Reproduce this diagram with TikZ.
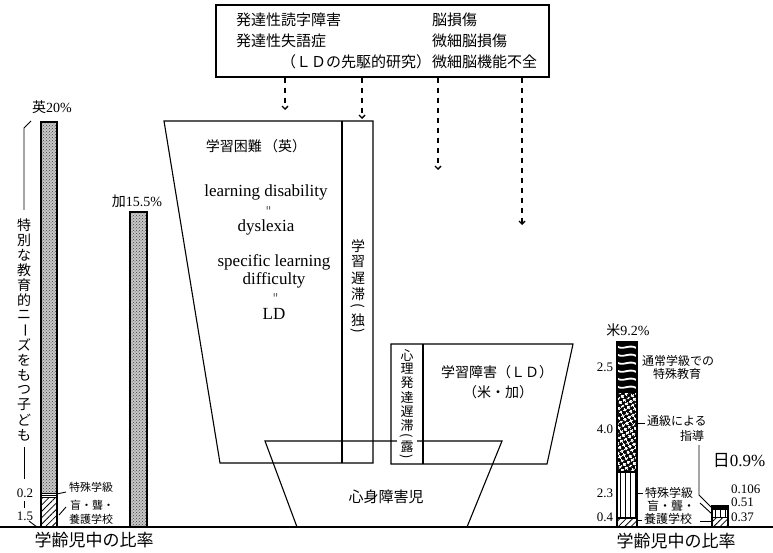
\documentclass[tikz,border=0pt]{standalone}
\usepackage{fontspec}
\usepackage{graphicx}
\newfontfamily\jp{Noto Sans CJK JP}
\newfontfamily\tms{Liberation Serif}
\usetikzlibrary{arrows.meta,patterns,patterns.meta}
\newcommand{\vpl}{\rotatebox[origin=c]{-90}{(}}
\newcommand{\vpr}{\rotatebox[origin=c]{-90}{)}}
\newcommand{\vbar}{\rotatebox[origin=c]{-90}{ー}}
\newcommand{\fs}[1]{\fontsize{#1}{#1}\selectfont}
\begin{document}
\begin{tikzpicture}[x=1pt,y={(0pt,-1pt)},
 outl/.style={line width=1.1pt, line join=miter},
 txt/.style={inner sep=0pt, outer sep=0pt},
 j17/.style={txt, font={\jp\fs{17}}},
 j15/.style={txt, font={\jp\fs{15}}},
 j14/.style={txt, font={\jp\fs{14}}},
 j13/.style={txt, font={\jp\fs{13}}},
 j12/.style={txt, font={\jp\fs{12}}},
 j11/.style={txt, font={\jp\fs{11}}},
 en/.style={txt, font={\tms\fs{17}}},
 num/.style={txt, font={\tms\fs{13}}},
 eqs/.style={txt, font={\tms\fs{13}}},
 dasharrow/.style={line width=1.4pt, dash pattern=on 5pt off 5pt, -{Straight Barb[length=3pt,width=6pt]}},
 lead/.style={line width=0.9pt},
 stip/.style={fill=black!22, postaction={pattern={crosshatch dots}, pattern color=black!75}},
 hatch/.style={pattern={Lines[angle=45,distance=4.5pt,line width=0.8pt]}},
 vlines/.style={pattern={Lines[angle=90,distance=5pt,line width=0.8pt]}},
]
\useasboundingbox (0,0) rectangle (773,553);

% ---- top box ----
\node[outl, draw, minimum width=333pt, minimum height=72pt, inner sep=0pt] (topbox) at (382.5,41) {};
\node[j15, anchor=west] (t1) at (236,20) {発達性読字障害};
\node[j15, anchor=west] (t2) at (236,41) {発達性失語症};
\node[j15] (t3) at (356,62) {（ＬＤの先駆的研究）};
\node[j15, anchor=west] (t4) at (432,20) {脳損傷};
\node[j15, anchor=west] (t5) at (432,41) {微細脳損傷};
\node[j15, anchor=west] (t6) at (432,62) {微細脳機能不全};

\coordinate (a1) at (285,110);
\coordinate (a2) at (362,119);
\coordinate (a3) at (438,170);
\coordinate (a4) at (522,225);
\draw[dasharrow] (topbox.south -| a1) -- (a1);
\draw[dasharrow] (topbox.south -| a2) -- (a2);
\draw[dasharrow] (topbox.south -| a3) -- (a3);
\draw[dasharrow] (topbox.south -| a4) -- (a4);

% ---- central shapes ----
\draw[outl] (164,121) -- (373,121) -- (373,463) -- (220,463) -- cycle;
\draw[outl] (342,121) -- (342,463);
\draw[outl] (391,344) -- (573,344) -- (547,464) -- (391,464) -- cycle;
\draw[outl] (423,344) -- (423,464);
\draw[outl] (265,441) -- (502,441) -- (467,527) -- (297,527) -- cycle;
\fill[white] (397,436) rectangle (417,446);

\node[j14] (lbA) at (256,146) {学習困難\,（英）};
\node[en] (e1) at (266,192) {learning disability};
\node[eqs] (e2) at (270,208) {\rotatebox{90}{\scalebox{0.6}[1]{=}}};
\node[en] (e3) at (266,227) {dyslexia};
\node[en] (e4) at (274,262) {specific learning};
\node[en] (e5) at (274,280) {difficulty};
\node[eqs] (e6) at (277,295) {\rotatebox{90}{\scalebox{0.6}[1]{=}}};
\node[en] (e7) at (274,314) {LD};

\foreach \c/\yy [count=\i] in {学/246,習/262,遅/278,滞/294,\vpl/307,独/320,\vpr/332}
  \node[j14] (g\i) at (358,\yy) {\c};
\foreach \c/\yy [count=\i] in {心/356,理/369,発/383,達/398,遅/412,滞/426,\vpl/437,露/447,\vpr/458}
  \node[j13] (h\i) at (407,\yy) {\c};

\node[j14] (lbB) at (497,372) {学習障害（ＬＤ）};
\node[j14] (lbC) at (498,392) {（米・加）};
\node[j15] (lbD) at (386,497) {心身障害児};

% ---- left bars ----
\path[stip] (41,122) rectangle (57,493);
\path[hatch] (41,497) rectangle (57,527);
\draw[outl] (41,122) rectangle (57,527);
\draw[lead] (41,493) -- (57,493) (41,495) -- (57,495) (41,497) -- (57,497);
\path[stip] (130,212) rectangle (147,527);
\draw[outl] (130,212) rectangle (147,527);

\node[j14] (L1) at (52,107) {英{\tms 20\%}};
\node[j14] (L2) at (137,201) {加{\tms 15.5\%}};
\node[num, anchor=east] (L3) at (33,493) {0.2};
\node[num, anchor=east] (L4) at (33,516) {1.5};
\node[j11, anchor=west] (L5) at (69,487) {特殊学級};
\node[j11, anchor=west] (L6) at (70,505) {盲・聾・};
\node[j11, anchor=west] (L7) at (69,519) {養護学校};
\node[j17] (L8) at (94,540) {学齢児中の比率};
\draw[lead] (57,494) -- (66,492);
\draw[lead] (59,515) -- (66,507);

\draw[lead] (31,121) -- (24,128) -- (24,210);
\draw[lead] (24,447) -- (24,479);
\draw[lead] (24,501) -- (24,508);
\draw[lead] (29,521) -- (37,527);
\foreach \c [count=\i] in {特,別,な,教,育,的,ニ,\vbar,ズ,を,も,つ,子,ど,も}
  \node[j14] (s\i) at (24,{225+(\i-1)*15}) {\c};

% ---- right bars ----
\begin{scope}
  \clip (617,342) rectangle (637,392);
  \fill (617,342) rectangle (637,392);
  \foreach \k in {0,...,7}
    \draw[white,line width=1.8pt] (614,336+\k*8) .. controls (623,346+\k*8) and (630,332+\k*8) .. (640,343+\k*8);
\end{scope}
\fill (617,392) rectangle (637,472);
\path[pattern={Hatch[angle=30,distance=4pt,line width=1.5pt]}, pattern color=white] (617,392) rectangle (637,472);
\path[vlines] (617,472) rectangle (637,518);
\path[hatch] (617,518) rectangle (637,527);
\draw[outl] (617,342) rectangle (637,527);
\draw[outl] (617,392) -- (637,392) (617,472) -- (637,472) (617,518) -- (637,518);

\fill (712,506) rectangle (728,509);
\path[vlines] (712,509) rectangle (728,517);
\path[hatch] (712,517) rectangle (728,527);
\draw[outl] (712,506) rectangle (728,527);
\draw[lead] (712,509) -- (728,509) (712,517) -- (728,517);

\node[j14] (R1) at (628,330) {米{\tms 9.2\%}};
\node[num, anchor=east] (R2) at (613,367) {2.5};
\node[num, anchor=east] (R3) at (613,429) {4.0};
\node[num, anchor=east] (R4) at (613,493) {2.3};
\node[num, anchor=east] (R5) at (613,517) {0.4};
\node[j12] (R6) at (678,361) {通常学級での};
\node[j12] (R7) at (677,374) {特殊教育};
\node[j12, anchor=west] (R8) at (647,421) {通級による};
\node[j12, anchor=west] (R9) at (680,436) {指導};
\node[j12, anchor=west] (R10) at (645,493) {特殊学級};
\node[j12, anchor=west] (R11) at (647,506) {盲・聾・};
\node[j12, anchor=west] (R12) at (644,519) {養護学校};
\node[txt, font={\tms\fs{17}}] (R13) at (739,461) {{\jp 日}0.9\%};
\node[num, anchor=west] (R14) at (731,489) {0.106};
\node[num, anchor=west] (R15) at (731,502) {0.51};
\node[num, anchor=west] (R16) at (731,517) {0.37};
\node[j17] (R17) at (676,541) {学齢児中の比率};

\draw[lead] (637,423) -- (645,423);
\draw[lead] (637,493) -- (643,493);
\draw[lead] (637,520) -- (642,520);
\draw[lead] (699,445) -- (699,495) -- (712,508);
\draw[lead] (700,503) -- (712,514);
\draw[lead] (700,521) -- (712,521);

% ---- baseline ----
\draw[line width=1.5pt] (0,527) -- (773,527);
\end{tikzpicture}
\end{document}
